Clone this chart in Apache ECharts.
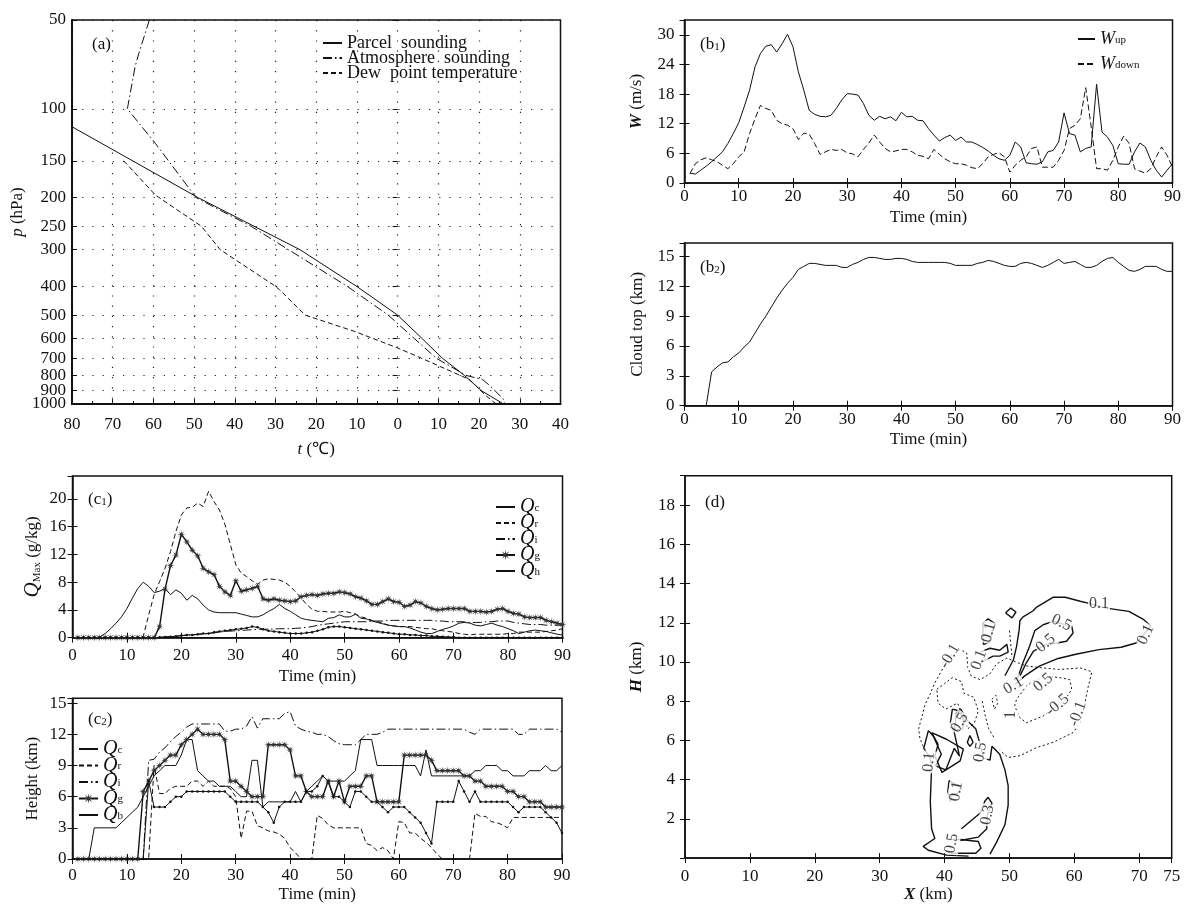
<!DOCTYPE html>
<html>
<head>
<meta charset="utf-8">
<script src="https://cdn.jsdelivr.net/npm/echarts@6/dist/echarts.min.js"></script>
<style>
html, body { margin: 0; padding: 0; background: #fff; }
#main { width: 1184px; height: 904px; }
</style>
</head>
<body>
<div id="main"></div>
<script>
// ---- (a) sounding: temperature (degC) against pressure (hPa)
var pressureTicks = [50, 100, 150, 200, 250, 300, 400, 500, 600, 700, 800, 900, 1000];
var parcelT = [-80, -49, -24, -10, 0, 6, 11, 16.4, 20.5, 26];
var parcelP = [115, 200, 300, 400, 500, 600, 700, 800, 900, 1000];
var atmosT = [-61, -63.6, -64.5, -66.4, -59.5, -49.5, -36, -26.8, -12.3, -2.3, 4.1, 9.5, 16.8, 20.9, 22.7, 25.9, 26.4];
var atmosP = [50, 65, 72, 100, 131, 200, 250, 300, 400, 500, 600, 700, 800, 827, 868, 960, 1000];
var dewT = [-67.3, -59.5, -48.2, -43.6, -30.5, -29, -22.7, -10.5, 0, 5.9, 17.7, 21.4, 24, 25.5];
var dewP = [150, 196, 250, 300, 395, 410, 500, 568, 646, 700, 827, 930, 995, 1000];

// ---- time axis, one value per minute
var minutes = [];
for (var m = 1; m <= 90; m++) minutes.push(m);

// ---- (b1) vertical velocity (m/s)
var wUp = [2.0,1.8,2.6,3.4,4.3,5.3,6.3,8.0,10.0,12.2, 15.4,18.8,23.5,26.2,27.7,28.0,26.5,28.2,30.1,27.6,
  22.5,18.8,14.7,13.9,13.5,13.4,13.7,15.1,16.8,18.1, 18.0,17.8,16.1,13.7,12.7,13.5,13.0,13.4,12.6,14.3,
  13.4,13.5,12.7,12.6,11.0,9.7,8.5,9.2,9.7,8.6, 9.3,8.3,8.3,7.8,7.2,6.5,5.6,4.9,4.6,5.6,
  8.3,7.3,4.1,3.9,3.8,4.3,6.3,6.6,8.3,14.2, 10.0,9.7,6.3,7.0,7.3,20.0,10.3,9.3,7.6,3.9,
  3.8,3.8,6.3,8.1,7.3,4.6,2.6,1.2,2.6,3.9];
var wDown = [1.9,3.9,4.7,5.1,4.7,4.3,3.6,2.9,3.9,5.3, 6.3,10.0,13.0,15.7,15.1,14.7,12.7,12.0,11.7,11.0,
  8.8,10.1,9.9,8.0,5.8,6.3,6.8,6.6,6.8,6.1, 5.9,5.3,6.8,8.1,9.7,8.3,7.0,6.3,6.5,6.8,
  6.8,6.3,5.6,5.4,4.9,6.8,5.8,4.9,4.3,3.9, 3.9,3.6,3.1,2.9,3.9,5.3,5.8,6.1,5.3,2.2,
  3.6,4.6,5.3,7.0,7.3,3.2,3.2,3.2,4.6,6.6, 11.0,11.7,13.0,19.3,11.4,2.9,2.9,2.6,4.6,7.3,
  9.5,8.0,2.9,2.4,2.0,2.9,5.3,7.3,5.6,3.2];

// ---- (b2) cloud top (km)
var cloudTop = [null,null,null,0,3.4,3.9,4.3,4.4,4.9,5.3, 5.9,6.4,7.3,8.2,9.0,9.9,10.8,11.6,12.3,12.9,
  13.7,14.0,14.3,14.3,14.2,14.1,14.1,14.1,13.9,13.9, 14.2,14.4,14.7,14.9,14.9,14.8,14.7,14.7,14.8,14.8,
  14.7,14.5,14.4,14.4,14.4,14.4,14.4,14.4,14.3,14.1, 14.1,14.1,14.1,14.3,14.4,14.6,14.5,14.3,14.1,14.0,
  14.0,14.3,14.4,14.3,14.1,13.9,14.1,14.4,14.7,14.3, 14.4,14.5,14.2,13.9,13.9,14.1,14.5,14.8,14.9,14.4,
  14.0,13.6,13.5,13.7,14.0,14.0,14.0,13.7,13.5,13.5];

// ---- (c1) maximum mixing ratio (g/kg)
var qcMax = [0,0,0,0,0.1,0.6,1.3,2.1,3.0,4.2, 5.7,7.1,8.0,7.4,6.5,6.7,7.1,6.2,6.9,6.4,
  5.4,6.1,5.6,4.7,4.0,3.7,3.6,3.6,3.6,3.6, 3.4,3.2,3.0,3.0,3.3,3.8,4.2,4.8,4.2,3.8,
  3.3,2.8,2.6,2.5,2.4,2.3,2.8,2.9,3.3,3.0, 3.0,3.4,2.8,2.7,2.4,2.2,2.0,1.8,1.7,1.6,
  1.6,1.4,1.1,0.8,0.6,0.6,0.9,1.2,1.4,1.7, 2.1,2.2,2.1,1.8,1.7,1.9,2.1,1.8,1.6,1.3,
  1.0,0.6,0.8,1.0,1.1,1.0,0.9,0.7,0.5,0.4];
var qrMax = [0,0,0,0,0,0,0,0,0,0, 0,0,0.2,3.3,6.2,8.1,10.0,12.4,15.3,17.7,
  18.7,18.8,19.4,18.9,21.1,19.6,18.4,16.3,13.4,10.5, 9.3,8.8,8.2,7.7,8.3,8.5,8.4,8.3,8.0,7.4,
  6.6,5.7,4.8,4.1,3.8,3.8,3.7,3.7,3.7,3.8, 3.6,3.4,3.0,2.8,2.5,2.3,2.1,1.8,1.7,1.6,
  1.6,1.6,1.5,1.4,1.3,1.3,1.1,1.0,0.9,0.8, 0.6,0.5,0.4,0.5,0.5,0.5,0.5,0.5,0.5,0.6,
  0.6,0.8,0.8,0.8,0.8,0.8,0.9,1.0,1.1,1.3];
var qiMax = [0,0,0,0,0,0,0,0,0,0, 0,0,0,0,0,0.05,0.1,0.15,0.2,0.3,
  0.35,0.4,0.45,0.5,0.6,0.7,0.8,0.9,0.95,1.0, 1.05,1.1,1.15,1.2,1.2,1.25,1.25,1.3,1.3,1.3,
  1.35,1.4,1.5,1.6,1.8,1.9,2.0,2.1,2.2,2.3, 2.3,2.3,2.3,2.3,2.4,2.4,2.4,2.5,2.5,2.5,
  2.5,2.5,2.5,2.5,2.5,2.5,2.4,2.4,2.3,2.3, 2.3,2.3,2.2,2.2,2.2,2.3,2.3,2.4,2.4,2.4,
  2.2,2.1,2.0,1.9,1.9,1.9,1.8,1.8,1.8,1.8];
var qgMax = [0,0,0,0,0,0,0,0,0,0, 0,0,0,0,0,1.6,7.0,10.4,11.9,14.9,
  13.8,12.6,11.8,10.0,9.5,9.1,7.4,6.6,6.1,8.2, 6.7,6.9,7.1,7.4,5.6,5.4,5.6,5.4,5.3,5.2,
  5.3,5.9,6.1,6.2,6.1,6.3,6.4,6.4,6.6,6.5, 6.3,5.9,5.7,5.3,4.8,4.8,5.2,5.6,5.2,5.1,
  4.5,4.7,5.2,5.0,4.5,4.2,4.0,4.1,4.2,4.2, 4.2,4.2,3.8,3.8,3.8,3.7,3.8,4.1,4.2,3.8,
  3.5,3.4,3.0,2.9,2.9,2.9,2.5,2.3,2.1,1.9];
var qhMax = [0,0,0,0,0,0,0,0,0,0, 0,0,0,0,0,0.05,0.1,0.15,0.2,0.3,
  0.4,0.4,0.5,0.6,0.6,0.8,0.9,1.0,1.1,1.2, 1.3,1.4,1.6,1.5,1.2,1.0,0.9,0.8,0.7,0.6,
  0.6,0.6,0.7,0.8,1.0,1.2,1.5,1.6,1.6,1.5, 1.4,1.3,1.2,1.1,1.0,0.9,0.8,0.7,0.6,0.5,
  0.5,0.4,0.4,0.3,0.3,0.2,0.2,0.15,0.1,0.1, 0,0,0,0,0,0,0,0,0,0,
  0,0,0,0,0,0,0,0,0,0];

// ---- (c2) height of the maxima (km)
var qcHeight = [0,0,0,3,3,3,3,3,3.5,4, 4.5,5,6,7,8,8.5,9,9,9,10,
  11.5,11.5,8.5,8,7.5,7.5,7,7,7,6.5, 6,6,9.5,9.5,5,5.5,5.5,5.5,5.5,5.5,
  6.5,5.5,6.5,7,7.5,8,7.5,7.5,7.5,7.5, 8,8.5,11.5,11.5,11.5,9,9,9,9,9,
  9,9,9,8,10.5,8,8,8,8,8, 8,8,8,8.5,8.5,9,9,9,8.5,8.5,
  8,8,8,8.5,8.5,8.5,9,8.5,8.5,9];
var qrHeight = [0,0,0,0,0,0,0,0,0,0, 0,0,0,0,9,6.3,6.3,6.8,7,7,
  7,7.5,7.5,7,7.5,7,7,7,6.8,6, 2,4.6,4.6,3.2,3,2.7,2.6,2.4,2,1.1,
  0.6,0,0,0,4.2,3.9,3.3,3,3,3, 3,3,3,1.5,1.3,0.8,1.1,0.8,0,3.6,
  3.5,2.5,2.5,2,1.6,1.1,0.5,0,0,0, 0,0,0,4.4,4.1,4.1,3.6,3.5,3.3,3,
  4,4,4,4,4,4,4,4,4,4];
var qiHeight = [0,0,0,0,0,0,0,0,0,0, 0,0,0,9.5,9.6,10.3,10.7,11.3,11.8,12.2,
  12.7,13,13,13,13,13,13,12.3,12.3,12.5, 12.5,12.8,13.7,12.6,13.5,13.5,13.5,13.5,14,14.2,
  12.8,12.5,12.3,12.2,12,12,11.8,11.4,11.1,11, 11,11,11.5,12,12,12,12.2,12.5,12.5,12.5,
  12.5,12.5,12.5,12.5,12.5,12.5,12.5,12.5,12.5,12.5, 12.5,12.5,12.2,12,12.5,12.5,12.5,12.5,12.5,12.5,
  12.5,12,12,12.5,12.5,12.5,12.5,12.5,12.5,12.2];
var qgHeight = [0,0,0,0,0,0,0,0,0,0, 0,0,6.5,7.5,8.5,9,9.5,10,10,11,
  11.5,12,12.5,12,12,12,12,11.5,7.5,7.5, 7,6.5,6,6,6,11,11,11,11,10.5,
  8,8,6.5,6,6,6,7.5,6,7.5,5.5, 7,7,7,8,8,5.5,5.5,5.5,5.5,5.5,
  10,10,10,10,10,9.5,8.5,8.5,8.5,8.5, 8.5,8,8,7.5,7.5,7,7,7,7,6.5,
  6.5,6,6,5.5,5.5,5.5,5,5,5,5];
var qhHeight = [0,0,0,0,0,0,0,0,0,0, 0,0,0,7.5,5,5,5,5.5,6,6,
  6.5,6.5,6.5,6.5,6.5,6.5,6.5,6.5,6,5.5, 5.5,5.5,5.5,5.5,5,4.5,3.5,5,5.5,5.5,
  5.5,5.5,6.5,6.5,7,8,7.5,6,6,5.5, 5,6.5,6.5,6,5.5,5.5,5,4.5,5,5,
  5,4.5,4,3.5,2.5,1.5,5.5,5.5,5.5,5.5, 7.5,6.5,5.5,6.5,5.5,5.5,5.5,5.5,5.5,5.5,
  5,4.5,5,5,5,5,4.5,4,3.5,2.5];

// ---- (d) contours, points as [X km, H km]
var dBody = [[43.7,0.1],[40.3,0.15],[37.5,0.4],[36.7,0.6],[38.5,1.0],[38.0,1.5],[37.8,2.9],[38.0,4.6],[37.8,5.1],
  [36.8,5.6],[37.5,6.5],[38.3,6.2],[39.5,5.3],[38.6,4.7],[40.2,4.5],[41.5,5.6],[42.3,5.2],[41.5,6.4],[41.8,7.4],
  [42.5,7.6],[43.5,7.0],[44.8,6.6],[45.3,6.0],[46.0,5.1],[47.0,5.0],[47.3,5.7],[48.5,5.3],[49.3,4.5],[49.8,3.7],
  [49.8,2.7],[49.3,1.7],[48.0,0.8],[47.0,0.2]];
var dCoreA = [[38.0,6.4],[40.3,6.06],[42.9,5.56],[42.4,4.96],[39.6,4.37],[38.5,5.2],[39.0,5.8],[38.0,6.4]];
var dCoreB = [[41.2,7.6],[42.3,7.5],[43.0,7.0],[42.8,6.6],[41.5,6.5],[40.9,6.9],[41.2,7.6]];
var dCoreC = [[43.9,6.25],[44.4,5.9],[43.9,5.7],[43.5,5.9],[43.9,6.25]];
var dBlob = [[40.7,3.95],[42.6,3.6],[42.0,3.3],[41.0,3.2],[40.9,2.9],[40.5,3.4],[40.7,3.95]];
var dLowA = [[42.6,1.5],[45.5,2.3],[46.2,2.9],[46.7,3.1],[47.3,2.8],[46.6,2.2],[46.5,1.5],[45.2,1.07],[42.4,0.9]];
var dLowB = [[40.6,0.95],[42.5,0.95],[45.2,0.85],[45.6,0.5],[44.8,0.25],[41.0,0.25]];
var dAnvil = [[49.3,9.3],[50.6,10.1],[51.1,10.8],[51.5,11.65],[51.6,12.1],[52.1,12.3],[53.6,12.6],[54.2,12.8],
  [56.7,13.3],[58.6,13.3],[60.9,13.1],[62.1,13.0],[64.9,12.75],[68.4,12.58],[70.7,12.16],[71.8,11.82],[69.5,10.97],
  [67.2,10.75],[63.8,10.63],[60.4,10.41],[57.5,10.18],[54.6,9.79],[52.3,9.28],[50.9,8.86]];
var dAnvilCore = [[51.2,9.1],[52.0,9.9],[53.1,10.8],[53.9,11.6],[55.2,11.9],[56.7,12.07],[59.6,11.82],[59.8,11.48],
  [58.8,11.06],[57.3,10.97],[55.7,10.9],[53.7,10.55],[52.6,9.96],[51.6,9.28]];
var dTopA = [[46.0,12.0],[46.7,12.2],[47.8,11.95],[47.2,11.4],[46.9,11.0],[46.0,10.9],[45.9,11.5],[46.0,12.0]];
var dTopB = [[45.5,10.5],[47.0,10.7],[48.5,10.6],[49.6,10.9],[49.8,10.5],[48.5,10.3],[47.5,10.3],[46.2,10.1],[45.4,9.9]];
var dTopC = [[49.4,12.5],[50.2,12.75],[51.0,12.55],[50.4,12.25],[49.4,12.5]];
var dNegOuter = [[36.7,5.7],[36.2,6.1],[36.0,6.6],[36.5,7.2],[37.0,7.84],[37.75,8.35],[38.5,8.94],[39.8,9.7],[40.8,10.3],
  [42.4,10.63],[43.4,10.47],[43.6,9.7],[44.1,9.28],[45.5,9.1],[47.0,9.4],[48.0,9.9],[49.6,10.2],[51.0,10.0],[52.6,9.8],
  [55.0,9.7],[57.8,9.62],[60.9,9.7],[62.7,9.5],[62.1,8.7],[61.5,7.67],[60.9,6.9],[59.8,6.4],[56.7,5.9],[54.2,5.64],
  [51.6,5.22],[49.8,5.13],[48.5,5.5]];
var dNegCore = [[53.7,9.03],[55.7,9.28],[57.8,9.2],[59.3,9.1],[59.6,8.6],[58.6,8.1],[57.3,7.76],[55.2,7.25],[52.6,6.9],
  [51.6,7.17],[50.8,7.76],[51.1,8.1],[52.6,8.77],[53.7,9.03]];
var dNegLeft = [[38.8,8.6],[40.0,8.9],[41.2,9.2],[42.6,9.0],[43.0,8.4],[44.5,8.2],[45.2,7.5],[44.6,6.9],[43.6,6.6],
  [42.0,7.9],[40.2,7.6],[39.0,7.9],[38.8,8.6]];
var dNegSmall = [[47.3,8.1],[47.9,8.3],[48.2,7.9],[47.7,7.6],[47.3,8.1]];
var dNegTail = [[45.8,8.0],[46.3,7.2],[46.8,6.6],[47.7,6.1]];
var dNegStub = [[50.0,11.6],[50.2,10.9],[50.4,10.3]];
var dLabelPos = [[63.8,12.95],[71.0,11.4],[58.0,12.0],[55.6,10.95],[46.8,11.5],[45.3,10.1],[40.8,10.3],[50.6,8.8],
  [55.2,8.95],[57.4,7.8],[60.5,7.35],[50.2,7.3],[42.3,6.9],[37.6,4.9],[45.5,5.4],[41.8,3.4],[46.6,2.2],[41.1,0.75]];
var dLabelText = ['0.1','0.1','0.5','0.5','0.1','0.1','-0.1','0.1','0.5','-0.5','-0.1','1','0.5','0.1','0.5','0.1','0.3','0.5'];
var dLabelRot = [0, 65, -25, 40, 75, 70, 60, 30, 40, 40, 70, 90, 60, 85, 80, 80, 80, 80];

var FONT = '"Liberation Serif", "Times New Roman", serif';
var INK = '#111';
var RICH = {
  i: { fontFamily: FONT, fontStyle: 'italic', fontSize: 17, color: INK, lineHeight: 20 },
  ib: { fontFamily: FONT, fontStyle: 'italic', fontWeight: 'bold', fontSize: 17, color: INK, lineHeight: 20 },
  q: { fontFamily: FONT, fontStyle: 'italic', fontSize: 21, color: INK, lineHeight: 20 },
  s: { fontFamily: FONT, fontSize: 11, color: INK, verticalAlign: 'bottom', lineHeight: 10 }
};
var LRICH = {
  i: { fontFamily: FONT, fontStyle: 'italic', fontSize: 18, color: INK, lineHeight: 14 },
  q: { fontFamily: FONT, fontStyle: 'italic', fontSize: 20, color: INK, lineHeight: 13 },
  s: { fontFamily: FONT, fontSize: 11, color: INK, verticalAlign: 'bottom', lineHeight: 6 }
};
var STAR = 'path://M10 0L11.15 7.23L17.07 2.93L12.77 8.85L20 10L12.77 11.15L17.07 17.07L11.15 12.77L10 20L8.85 12.77L2.93 17.07L7.23 11.15L0 10L7.23 8.85L2.93 2.93L8.85 7.23Z';

var grids = [
  { left: 72, top: 20, width: 488.5, height: 384 },
  { left: 684.5, top: 20, width: 488, height: 163 },
  { left: 684.5, top: 243, width: 488, height: 162.7 },
  { left: 72.5, top: 476, width: 490, height: 161.7 },
  { left: 72.5, top: 698.3, width: 489.5, height: 163.4 },
  { left: 685, top: 475.7, width: 486.7, height: 383.7 }
].map(function (g) {
  return Object.assign(g, { show: true, borderColor: INK, borderWidth: 1.5, backgroundColor: 'transparent' });
});

var xAxes = [], yAxes = [];
var dots = { color: '#222', width: 1.2, type: [1.2, 9] };
var labelBase = { color: INK, fontFamily: FONT, fontSize: 17 };

function frame(gi, o) {
  var tick = { show: true, inside: true, length: 5, lineStyle: { color: INK, width: 1 } };
  var nameStyle = { color: INK, fontFamily: FONT, fontSize: 17, rich: RICH };
  var xi = xAxes.length, yi = yAxes.length;
  xAxes.push({
    gridIndex: gi, type: 'value', position: 'bottom', min: o.xMin, max: o.xMax, interval: o.xInt,
    name: o.xName, nameLocation: 'middle', nameGap: o.xGap, nameTextStyle: nameStyle,
    axisLine: { show: true, onZero: false, lineStyle: { color: INK, width: o.lw || 1.5 } },
    axisTick: tick,
    minorTick: { show: !!o.xMinor, splitNumber: 2, length: 3, lineStyle: { color: INK } },
    axisLabel: Object.assign({ margin: o.xMargin, formatter: o.xFmt, showMinLabel: true, showMaxLabel: true }, labelBase),
    splitLine: { show: !!o.dotted, lineStyle: dots }
  });
  xAxes.push({
    gridIndex: gi, type: 'value', position: 'top', min: o.xMin, max: o.xMax, interval: o.xInt,
    axisLine: { show: false }, axisTick: Object.assign({}, tick, { show: !o.noTopTicks }),
    axisLabel: { show: false }, splitLine: { show: false }
  });
  var yTick = o.yCustom ? Object.assign({}, tick, { customValues: o.yCustom }) : tick;
  yAxes.push({
    gridIndex: gi, type: 'value', position: 'left', min: o.yMin, max: o.yMax, interval: o.yInt, inverse: !!o.yInverse,
    name: o.yName, nameLocation: 'middle', nameGap: o.yGap, nameTextStyle: nameStyle,
    axisLine: { show: true, onZero: false, lineStyle: { color: INK, width: o.lw || 1.5 } },
    axisTick: yTick,
    axisLabel: Object.assign({
      margin: o.yMargin, formatter: o.yFmt, customValues: o.yLabelValues,
      showMaxLabel: !o.hideYMax, showMinLabel: !o.hideYMin
    }, labelBase),
    splitLine: { show: !!o.dotted, lineStyle: dots }
  });
  yAxes.push({
    gridIndex: gi, type: 'value', position: 'right', min: o.yMin, max: o.yMax, interval: o.yInt, inverse: !!o.yInverse,
    axisLine: { show: false }, axisTick: yTick, axisLabel: { show: false }, splitLine: { show: false }
  });
  return { x: xi, y: yi };
}

var log10 = function (v) { return Math.log(v) / Math.LN10; };
var pFmt = function (v) { return String(Math.round(Math.pow(10, v))); };
var pLog = pressureTicks.map(log10);
// pressure labels are split over two left axes (800 and 1000 on the second)
// so that the closely packed bottom labels are all kept
var pLabelsMain = pLog.filter(function (v, i) { return pressureTicks[i] !== 800 && pressureTicks[i] !== 1000; });
var pLabelsLow = pLog.filter(function (v, i) { return pressureTicks[i] === 800 || pressureTicks[i] === 1000; });
var axA = frame(0, {
  xMin: -80, xMax: 40, xInt: 10, xMinor: true, xMargin: 12, lw: 2, dotted: true, noTopTicks: true,
  xFmt: function (v) { return String(Math.abs(v)); },
  xName: '{i|t} (℃)', xGap: 36,
  yMin: log10(50), yMax: log10(1000), yInverse: true, yCustom: pLog, yLabelValues: pLabelsMain, yMargin: 6,
  yFmt: pFmt, yName: '{i|p} (hPa)', yGap: 44
});
yAxes.push({
  gridIndex: 0, type: 'value', position: 'left', min: log10(50), max: log10(1000), inverse: true,
  axisLine: { show: false }, axisTick: { show: false }, splitLine: { show: false },
  axisLabel: Object.assign({ margin: 6, formatter: pFmt, customValues: pLabelsLow, showMinLabel: true, showMaxLabel: true }, labelBase)
});
var axB1 = frame(1, {
  xMin: 0, xMax: 90, xInt: 10, xMargin: 5, xName: 'Time (min)', xGap: 26,
  yMin: 0, yMax: 33, yInt: 6, yMargin: 10, hideYMax: true, yName: '{ib|W} (m/s)', yGap: 38
});
var axB2 = frame(2, {
  xMin: 0, xMax: 90, xInt: 10, xMargin: 5, xName: 'Time (min)', xGap: 25,
  yMin: 0, yMax: 16.35, yInt: 3, yMargin: 10, hideYMax: true, yName: 'Cloud top (km)', yGap: 38
});
var axC1 = frame(3, {
  xMin: 0, xMax: 90, xInt: 10, xMargin: 9, xName: 'Time (min)', xGap: 30,
  yMin: 0, yMax: 23.3, yInt: 4, yMargin: 6, hideYMax: true, yName: '{q|Q}{s|Max} (g/kg)', yGap: 30
});
var axC2 = frame(4, {
  xMin: 0, xMax: 90, xInt: 10, xMargin: 8, xName: 'Time (min)', xGap: 27,
  yMin: 0, yMax: 15.47, yInt: 3, yMargin: 6, hideYMax: true, yName: 'Height (km)', yGap: 31
});
var axD = frame(5, {
  xMin: 0, xMax: 75, xInt: 10, xMargin: 10, xName: '{ib|X} (km)', xGap: 26,
  yMin: 0, yMax: 19.5, yInt: 2, yMargin: 10, hideYMax: true, hideYMin: true, yName: '{ib|H} (km)', yGap: 38
});

function pairs(xs, ys) { return xs.map(function (x, i) { return [x, ys[i]]; }); }
function soundingData(ts, ps) { return ts.map(function (t, i) { return [t, log10(ps[i])]; }); }

function line(name, ax, data, style, extra) {
  return Object.assign({
    name: name, type: 'line', xAxisIndex: ax.x, yAxisIndex: ax.y, data: data,
    showSymbol: false, symbol: 'none', color: INK, connectNulls: false, animation: false,
    lineStyle: Object.assign({ color: INK, width: 1 }, style)
  }, extra || {});
}

var DASH = [5, 3];
var DASHDOT = [9, 3, 1.5, 3];
var series = [
  line('Parcel sounding', axA, soundingData(parcelT, parcelP), { type: 'solid' }),
  line('Atmosphere sounding', axA, soundingData(atmosT, atmosP), { type: DASHDOT }),
  line('Dew point temperature', axA, soundingData(dewT, dewP), { type: DASH }),

  line('Wup', axB1, pairs(minutes, wUp), { type: 'solid' }),
  line('Wdown', axB1, pairs(minutes, wDown), { type: [6, 3] }),

  line('Cloud top', axB2, pairs(minutes, cloudTop), { type: 'solid' }),

  line('Qc1', axC1, pairs(minutes, qcMax), { type: 'solid' }),
  line('Qr1', axC1, pairs(minutes, qrMax), { type: DASH }),
  line('Qi1', axC1, pairs(minutes, qiMax), { type: DASHDOT }),
  line('Qg1', axC1, pairs(minutes, qgMax), { type: 'solid', width: 1.4 },
    { showSymbol: true, symbol: STAR, symbolSize: 8, itemStyle: { color: '#333' } }),
  line('Qh1', axC1, pairs(minutes, qhMax), { type: 'solid' },
    { showSymbol: true, symbol: 'circle', symbolSize: 2.5, itemStyle: { color: INK } }),

  line('Qc2', axC2, pairs(minutes, qcHeight), { type: 'solid' }),
  line('Qr2', axC2, pairs(minutes, qrHeight), { type: DASH }),
  line('Qi2', axC2, pairs(minutes, qiHeight), { type: DASHDOT }),
  line('Qg2', axC2, pairs(minutes, qgHeight), { type: 'solid', width: 1.4 },
    { showSymbol: true, symbol: STAR, symbolSize: 8, itemStyle: { color: '#333' } }),
  line('Qh2', axC2, pairs(minutes, qhHeight), { type: 'solid' },
    { showSymbol: true, symbol: 'circle', symbolSize: 2.5, itemStyle: { color: INK } })
];

[dBody, dCoreA, dCoreB, dCoreC, dBlob, dLowA, dLowB, dAnvil, dAnvilCore, dTopA, dTopB, dTopC].forEach(function (c, k) {
  series.push(line('pos' + k, axD, c, { type: 'solid', width: 1.4 }));
});
[dNegOuter, dNegCore, dNegLeft, dNegSmall, dNegTail, dNegStub].forEach(function (c, k) {
  series.push(line('neg' + k, axD, c, { type: [2, 2.5], width: 1 }));
});
series.push({
  name: 'labels', type: 'scatter', xAxisIndex: axD.x, yAxisIndex: axD.y, symbolSize: 1,
  itemStyle: { color: 'transparent' }, z: 5, animation: false,
  label: {
    show: true, position: 'inside', formatter: function (p) { return p.name; },
    fontFamily: FONT, fontSize: 16, color: INK, backgroundColor: '#fff', padding: [0, 1]
  },
  data: dLabelPos.map(function (p, i) {
    return { name: dLabelText[i], value: p, label: { rotate: dLabelRot[i] } };
  })
});

// legend entries: plain line icons, the graupel entry keeps its star
function legendItems(names) {
  return names.map(function (n) {
    return /^Qg/.test(n) ? { name: n }
      : { name: n, itemStyle: { color: 'transparent', borderColor: 'transparent', borderWidth: 0 } };
  });
}
var legendText = { color: INK, fontFamily: FONT, fontSize: 17, rich: LRICH };
var qSub = { Qc1: 'c', Qr1: 'r', Qi1: 'i', Qg1: 'g', Qh1: 'h', Qc2: 'c', Qr2: 'r', Qi2: 'i', Qg2: 'g', Qh2: 'b' };
var legends = [
  { data: legendItems(['Parcel sounding', 'Atmosphere sounding', 'Dew point temperature']), left: 322, top: 34,
    itemWidth: 19, itemHeight: 12, itemGap: -3,
    textStyle: { color: INK, fontFamily: FONT, fontSize: 18 },
    formatter: function (n) { return n.replace(' ', '  '); } },
  { data: legendItems(['Wup', 'Wdown']), left: 1077, top: 30, itemWidth: 17, itemHeight: 18, itemGap: 7, textStyle: legendText,
    formatter: function (n) { return n === 'Wup' ? '{i|W}{s|up}' : '{i|W}{s|down}'; } },
  { data: legendItems(['Qc1', 'Qr1', 'Qi1', 'Qg1', 'Qh1']), left: 495, top: 497, itemWidth: 19, itemHeight: 13, itemGap: -4,
    textStyle: legendText, formatter: function (n) { return '{q|Q}{s|' + qSub[n] + '}'; } },
  { data: legendItems(['Qc2', 'Qr2', 'Qi2', 'Qg2', 'Qh2']), left: 78, top: 739, itemWidth: 19, itemHeight: 13, itemGap: -3.5,
    textStyle: legendText, formatter: function (n) { return '{q|Q}{s|' + qSub[n] + '}'; } }
].map(function (l) {
  return Object.assign({ orient: 'vertical', padding: 0, selectedMode: false }, l);
});

var titleStyle = { color: INK, fontFamily: FONT, fontSize: 17, fontWeight: 'normal', rich: { s: RICH.s } };
var titles = [
  { text: '(a)', left: 92, top: 36 },
  { text: '(b{s|1})', left: 700, top: 36 },
  { text: '(b{s|2})', left: 700, top: 259 },
  { text: '(c{s|1})', left: 88, top: 491 },
  { text: '(c{s|2})', left: 88, top: 711 },
  { text: '(d)', left: 705, top: 494 }
].map(function (t) { return Object.assign({ padding: 0, textStyle: titleStyle }, t); });

var chart = echarts.init(document.getElementById('main'));
chart.setOption({
  animation: false,
  backgroundColor: '#fff',
  title: titles,
  legend: legends,
  grid: grids,
  xAxis: xAxes,
  yAxis: yAxes,
  series: series
});
</script>
</body>
</html>
